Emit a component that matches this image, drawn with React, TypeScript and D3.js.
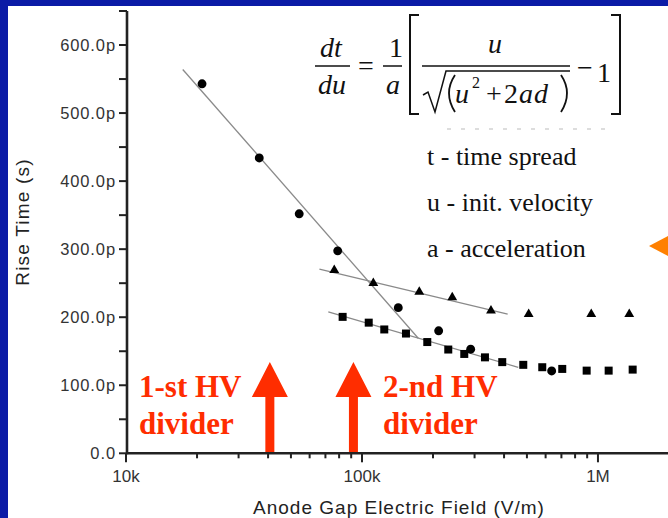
import * as d3 from "d3";

// rise time vs anode gap field (x in V/m, y in ps)
const circleX = [21000, 36700, 54200, 78900, 142500, 211300, 288800, 636500];
const circleY = [543, 434, 352, 297.5, 214, 180, 153, 121];
const triX = [76300, 111700, 174900, 241300, 352100, 508600, 936700, 1357000];
const triY = [269, 250, 237, 229, 209.5, 204.5, 204.5, 204.5];
const sqX = [82800, 106800, 124300, 153600, 189100, 232100, 271300, 332000, 393000, 482500, 580700, 705800, 895600, 1110000, 1403000];
const sqY = [200.5, 192, 182, 176, 163.5, 152.5, 146, 141, 134, 130, 126.5, 124, 121.5, 121.5, 123];

// fitted lines: [x, y] end points
const fitLines = [
  [[17400, 564], [173200, 169]],
  [[66000, 270.5], [414400, 204.6]],
  [[72000, 208], [459500, 126.3]],
];

const yTicks = [0, 100, 200, 300, 400, 500, 600];
const yMinor = [50, 150, 250, 350, 450, 550, 650];
const xTicks = [1e4, 1e5, 1e6];
const xTickLabels = ["10k", "100k", "1M"];

// HV divider markers
const arrowX = [40700, 92000];
const arrowTip = 134;
const dividerLabels = [["1-st HV", "divider"], ["2-nd HV", "divider"]];
const legendLines = ["t - time spread", "u - init. velocity", "a - acceleration"];

const W = 668;
const H = 518;
const sans = "'Liberation Sans', Arial, sans-serif";
const serif = "'Liberation Serif', 'Times New Roman', serif";
const red = "#ff2d00";

export default function App() {
  const x = d3.scaleLog().domain([1e4, 2e6]).range([126, 669]);
  const y = d3.scaleLinear().domain([0, 650]).range([453.3, 11]);

  const xMinor: number[] = [];
  [1e4, 1e5, 1e6].forEach((d) => {
    for (let k = 2; k <= 9; k++) if (d * k <= 2e6) xMinor.push(d * k);
  });

  const circle = d3.symbol(d3.symbolCircle, 62)();
  const square = d3.symbol(d3.symbolSquare, 64)();
  const tri = d3.symbol(d3.symbolTriangle, 42)();
  const line = d3.line<number[]>().x((d) => x(d[0])).y((d) => y(d[1]));

  const y0 = y(0);
  const tipY = y(arrowTip);

  return (
    <svg width={W} height={H} style={{ position: "absolute", left: 0, top: 0 }}>
      <rect width={W} height={H} fill="#0b1ba6" />
      <rect x={8} y={6} width={W - 8} height={H - 6} fill="#ffffff" />

      {/* formula */}
      <g fontFamily={serif} fontSize={28} fill="#111">
        <text x={320} y={57} fontStyle="italic">dt</text>
        <line x1={315} x2={350} y1={66} y2={66} stroke="#111" strokeWidth={1.5} />
        <text x={318} y={94} fontStyle="italic">du</text>
        <text x={358} y={75}>=</text>
        <text x={389} y={57}>1</text>
        <line x1={383} x2={402} y1={66} y2={66} stroke="#111" strokeWidth={1.5} />
        <text x={386} y={94} fontStyle="italic">a</text>
        <path d="M419,15 L410,15 L410,114 L419,114" fill="none" stroke="#111" strokeWidth={2} />
        <text x={488} y={53} fontStyle="italic">u</text>
        <line x1={422} x2={570} y1={66} y2={66} stroke="#111" strokeWidth={1.5} />
        <path d="M423,95 L428,92 L435,112 L446,71 L570,71" fill="none" stroke="#111" strokeWidth={1.5} />
        <path d="M455,75 Q443,93 455,112" fill="none" stroke="#111" strokeWidth={1.8} />
        <text x={455} y={103} fontStyle="italic">u</text>
        <text x={472} y={88} fontSize={16}>2</text>
        <text x={486} y={103}>+</text>
        <text x={504} y={103}>2</text>
        <text x={519} y={103} fontStyle="italic" letterSpacing={1}>ad</text>
        <path d="M561,75 Q573,93 561,112" fill="none" stroke="#111" strokeWidth={1.8} />
        <text x={577} y={77}>−</text>
        <text x={597} y={82}>1</text>
        <path d="M611,15 L620,15 L620,114 L611,114" fill="none" stroke="#111" strokeWidth={2} />
      </g>
      <line x1={447} x2={610} y1={129} y2={129} stroke="#bbb" strokeWidth={1.2} strokeDasharray="4 10" />

      <g fontFamily={serif} fontSize={26} fill="#111">
        {legendLines.map((t, i) => (
          <text key={t} x={427} y={165 + i * 46}>{t}</text>
        ))}
      </g>
      <path d="M649,246 L668,236 L668,256 Z" fill="#ff8000" />

      {/* fits */}
      {fitLines.map((f, i) => (
        <path key={i} d={line(f) || ""} fill="none" stroke="#8a8a8a" strokeWidth={1.3} />
      ))}

      {/* markers */}
      <g fill="#000">
        {circleX.map((v, i) => (
          <path key={"c" + i} d={circle || ""} transform={`translate(${x(v)},${y(circleY[i])})`} />
        ))}
        {triX.map((v, i) => (
          <path key={"t" + i} d={tri || ""} transform={`translate(${x(v)},${y(triY[i])})`} />
        ))}
        {sqX.map((v, i) => (
          <path key={"s" + i} d={square || ""} transform={`translate(${x(v)},${y(sqY[i])})`} />
        ))}
      </g>

      {/* arrows */}
      {arrowX.map((v, i) => {
        const cx = x(v);
        return (
          <path
            key={i}
            fill={red}
            d={`M${cx},${tipY} L${cx + 18},${tipY + 35} L${cx + 4.5},${tipY + 35} L${cx + 4.5},${y0} L${cx - 4.5},${y0} L${cx - 4.5},${tipY + 35} L${cx - 18},${tipY + 35} Z`}
          />
        );
      })}
      <g fontFamily={serif} fontSize={31} fontWeight="bold" fill={red}>
        {dividerLabels.map((lab, i) => (
          <g key={i}>
            <text x={i === 0 ? 139 : 383} y={397}>{lab[0]}</text>
            <text x={i === 0 ? 139 : 383} y={433.5}>{lab[1]}</text>
          </g>
        ))}
      </g>

      {/* y axis */}
      <g fontFamily={sans} fontSize={16.5} fill="#333" letterSpacing={0.9}>
        {yTicks.map((t) => (
          <g key={t}>
            <line x1={119} x2={127} y1={y(t)} y2={y(t)} stroke="#222" strokeWidth={2} />
            <text x={116} y={y(t) + 5.5} textAnchor="end">
              {t === 0 ? "0.0" : `${t}.0p`}
            </text>
          </g>
        ))}
        {yMinor.map((t) => (
          <line key={t} x1={119} x2={127} y1={y(t)} y2={y(t)} stroke="#222" strokeWidth={2} />
        ))}
      </g>
      <line x1={127} x2={127} y1={y(650)} y2={y0 + 1} stroke="#222" strokeWidth={2.6} />

      {/* x axis */}
      <line x1={126} x2={W} y1={y0} y2={y0} stroke="#222" strokeWidth={2.6} />
      {xMinor.map((t) => (
        <line key={t} x1={x(t)} x2={x(t)} y1={y0} y2={y0 + 5} stroke="#222" strokeWidth={2} />
      ))}
      <g fontFamily={sans} fontSize={17} fill="#333">
        {xTicks.map((t, i) => (
          <g key={t}>
            <line x1={x(t)} x2={x(t)} y1={y0} y2={y0 + 9} stroke="#222" strokeWidth={2} />
            <text x={x(t)} y={482} textAnchor="middle">{xTickLabels[i]}</text>
          </g>
        ))}
      </g>

      <text x={399} y={514} textAnchor="middle" fontFamily={sans} fontSize={19} letterSpacing={1} fill="#222">
        Anode Gap Electric Field (V/m)
      </text>
      <text
        transform="translate(29,222) rotate(-90)"
        textAnchor="middle"
        fontFamily={sans}
        fontSize={19}
        letterSpacing={1.2}
        fill="#222"
      >
        Rise Time (s)
      </text>
    </svg>
  );
}
